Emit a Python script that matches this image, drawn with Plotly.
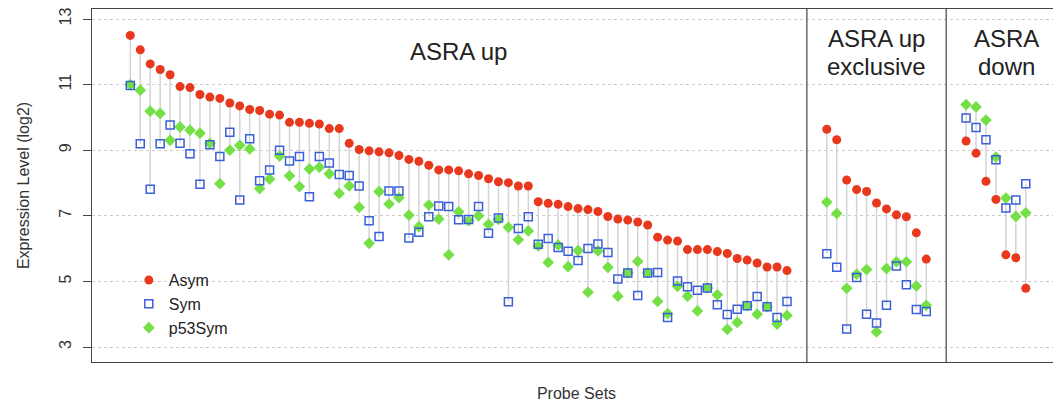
import plotly.graph_objects as go

# ---------------- data ----------------
section_names = ["ASRA up", "ASRA up exclusive", "ASRA down"]

asym_up = [12.50, 12.06, 11.63, 11.46, 11.30, 10.94, 10.91, 10.70, 10.62, 10.58,
           10.44, 10.35, 10.24, 10.21, 10.10, 10.07, 9.85, 9.85, 9.82, 9.80,
           9.66, 9.66, 9.21, 9.02, 8.98, 8.95, 8.92, 8.84, 8.72, 8.66,
           8.54, 8.40, 8.40, 8.37, 8.28, 8.23, 8.13, 8.04, 8.01, 7.91,
           7.91, 7.43, 7.38, 7.35, 7.28, 7.22, 7.19, 7.13, 6.98, 6.90,
           6.87, 6.81, 6.72, 6.35, 6.26, 6.23, 5.97, 5.97, 5.97, 5.91,
           5.85, 5.70, 5.65, 5.56, 5.44, 5.44, 5.33]
sym_up = [10.97, 9.20, 7.81, 9.20, 9.77, 9.21, 8.89, 7.96, 9.17, 8.81,
          9.55, 7.48, 9.35, 8.07, 8.40, 9.00, 8.67, 8.81, 7.58, 8.81,
          8.61, 8.26, 8.23, 7.91, 6.85, 6.37, 7.76, 7.76, 6.32, 6.50,
          6.97, 7.30, 7.28, 6.88, 6.89, 7.28, 6.47, 6.93, 4.38, 6.61,
          6.97, 6.13, 6.31, 6.03, 5.92, 5.64, 6.00, 6.14, 5.88, 5.07,
          5.26, 4.57, 5.26, 5.27, 3.90, 5.01, 4.84, 4.73, 4.80, 4.29,
          3.99, 4.15, 4.26, 4.54, 4.23, 3.90, 4.39]
p53_up = [11.00, 10.83, 10.19, 10.12, 9.30, 9.71, 9.61, 9.52, 9.21, 7.98,
          9.00, 9.15, 9.04, 7.83, 8.12, 8.82, 8.22, 7.89, 8.43, 8.48,
          8.28, 7.68, 7.91, 7.26, 6.16, 7.74, 7.36, 7.55, 7.02, 6.67,
          7.33, 6.90, 5.81, 7.12, 6.85, 7.00, 6.74, 6.89, 6.65, 6.27,
          6.54, 6.08, 5.58, 6.11, 5.45, 5.94, 4.67, 5.93, 5.43, 4.55,
          5.26, 5.61, 5.26, 4.39, 4.02, 4.85, 4.55, 4.10, 4.80, 4.59,
          3.54, 3.75, 4.26, 4.00, 4.23, 3.70, 3.96]

asym_excl = [9.64, 9.32, 8.09, 7.80, 7.74, 7.39, 7.21, 7.03, 6.97, 6.48, 5.68]
sym_excl = [5.84, 5.43, 3.55, 5.12, 4.00, 3.73, 4.27, 5.47, 4.90, 4.14, 4.08]
p53_excl = [7.42, 7.07, 4.79, 5.22, 5.36, 3.46, 5.39, 5.60, 5.60, 4.86, 4.27]

asym_down = [9.28, 8.91, 8.05, 7.50, 5.81, 5.72, 4.79]
sym_down = [9.98, 9.69, 9.32, 8.71, 7.24, 7.48, 7.98]
p53_down = [10.39, 10.32, 9.92, 8.79, 7.54, 6.98, 7.09]

y_ticks = [3, 5, 7, 9, 11, 13]

# ---------------- build positions ----------------
GAP = 3
asym, sym, p53, xs, dividers, centers = [], [], [], [], [], []
offset = 0
for a, s, p in [(asym_up, sym_up, p53_up), (asym_excl, sym_excl, p53_excl),
                (asym_down, sym_down, p53_down)]:
    if offset > 0:
        dividers.append(offset - GAP / 2 - 0.5)
    n = len(a)
    xs += [offset + i for i in range(n)]
    centers.append(offset + (n - 1) / 2)
    asym += a
    sym += s
    p53 += p
    offset += n + GAP

seg_x, seg_y = [], []
for x, a, s, p in zip(xs, asym, sym, p53):
    seg_x += [x, x, None]
    seg_y += [min(a, s, p), max(a, s, p), None]

RED = "#E8381E"
BLUE = "#3A5FD9"
GREEN = "#74E046"
FONT = "Liberation Sans, Arial, sans-serif"

fig = go.Figure()
fig.add_trace(go.Scatter(x=seg_x, y=seg_y, mode="lines",
                         line=dict(color="#d4d4d4", width=1.5),
                         showlegend=False, hoverinfo="skip"))
fig.add_trace(go.Scatter(x=xs, y=asym, mode="markers", name="Asym", legendrank=1,
                         marker=dict(symbol="circle", size=9, color=RED,
                                     line=dict(width=0))))
fig.add_trace(go.Scatter(x=xs, y=p53, mode="markers", name="p53Sym", legendrank=3,
                         marker=dict(symbol="diamond", size=9, color=GREEN,
                                     line=dict(width=0))))
fig.add_trace(go.Scatter(x=xs, y=sym, mode="markers", name="Sym", legendrank=2,
                         marker=dict(symbol="square-open", size=8, color=BLUE,
                                     line=dict(width=1.5, color=BLUE))))

for d in dividers:
    fig.add_shape(type="line", x0=d, x1=d, y0=0, y1=1, xref="x", yref="paper",
                  line=dict(color="#444444", width=1.2))

# section labels
label_lines = [
    (centers[0], 12.02, "ASRA up"),
    (centers[1], 12.42, "ASRA up"),
    (centers[1], 11.55, "exclusive"),
    (88.1, 12.42, "ASRA"),
    (88.1, 11.55, "down"),
]
for lx, ly, txt in label_lines:
    fig.add_annotation(x=lx, y=ly, text=txt, showarrow=False,
                       xanchor="center", yanchor="middle",
                       font=dict(size=24, color="#222222", family=FONT))

# page body has an 8px margin, so the figure is drawn 8px right/down;
# margins are set so the plot box lands where it is in the reference.
fig.update_layout(
    width=1061, height=406,
    margin=dict(l=84, r=8, t=1, b=52),
    paper_bgcolor="white", plot_bgcolor="white",
    font=dict(family=FONT, color="#333333"),
    showlegend=True,
    legend=dict(x=0.038, y=0.28, xanchor="left", yanchor="top",
                font=dict(size=16, color="#222222", family=FONT),
                bgcolor="rgba(0,0,0,0)", tracegroupgap=0,
                traceorder="normal"),
)
fig.update_xaxes(range=[-3.85, 93.54], showgrid=False, zeroline=False,
                 showticklabels=False, ticks="", automargin=False,
                 showline=True, mirror=True, linecolor="#444444", linewidth=1.2,
                 title=dict(text="Probe Sets", standoff=25,
                            font=dict(size=16, color="#333333", family=FONT)))
fig.update_yaxes(range=[2.543, 13.305], tickvals=y_ticks,
                 ticktext=[str(t) for t in y_ticks], automargin=False,
                 ticks="outside", ticklen=8, tickcolor="#444444", tickwidth=1,
                 tickangle=-90, tickfont=dict(size=16, color="#333333", family=FONT),
                 ticklabelstandoff=6, ticklabeloverflow="allow",
                 showgrid=True, gridcolor="#cccccc", griddash="dot", gridwidth=1.2,
                 zeroline=False, showline=True, mirror=False,
                 linecolor="#444444", linewidth=1.2,
                 title=dict(text="Expression Level (log2)", standoff=22,
                            font=dict(size=16, color="#333333", family=FONT)))

fig.write_html("out.html")
